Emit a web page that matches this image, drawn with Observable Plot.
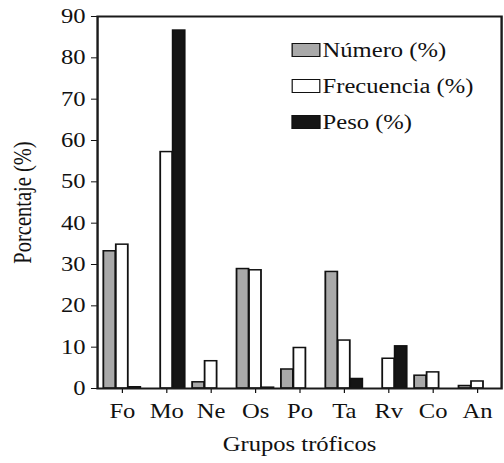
<!DOCTYPE html>
<html>
<head>
<meta charset="utf-8">
<script src="https://cdn.jsdelivr.net/npm/d3@7"></script>
<script src="https://cdn.jsdelivr.net/npm/@observablehq/plot@0.6"></script>
<style>
  html, body { margin: 0; padding: 0; background: #fff; overflow: hidden; }
  #outer { width: 504px; height: 463px; overflow: hidden; }
  #wrap { position: relative; width: 420px; height: 463px; font-family: "Liberation Serif", serif; color: #111;
          transform: scaleX(1.2); transform-origin: 0 0; }
  #wrap svg { display: block; }
  #legend { position: absolute; left: 243.3px; top: 32px; }
  .row { display: flex; align-items: center; height: 36px; font-size: 20.5px; line-height: 1; white-space: nowrap; }
  .sw { width: 22px; height: 12px; border: 1.6px solid #111; margin-right: 1.5px; box-sizing: content-box; }
</style>
</head>
<body>
<div id="outer"><div id="wrap"><div id="legend"></div></div></div>
<script>
const groups = ["Fo", "Mo", "Ne", "Os", "Po", "Ta", "Rv", "Co", "An"];
const numero = [33.2, 0, 1.5, 28.9, 4.6, 28.2, 0, 3.1, 0.6];
const frecuencia = [34.8, 57.2, 6.6, 28.6, 9.8, 11.6, 7.2, 3.9, 1.7];
const peso = [0.3, 86.6, 0, 0.2, 0, 2.3, 10.2, 0, 0];
const seriesNames = ["Número (%)", "Frecuencia (%)", "Peso (%)"];
const seriesColors = ["#a9a9a9", "#ffffff", "#151515"];
const yTicks = [0, 10, 20, 30, 40, 50, 60, 70, 80, 90];

// the reference is drawn horizontally stretched by ~1.2; draw at 420px wide and stretch
const S = 1.2;
const W = 420, H = 463;
const mL = 80.8, mR = 2.5, mT = 16, mB = 75;
const band = (W - mL - mR) / groups.length;
const barW = 10.4;
const inset = (band - barW) / 2;

const seriesValues = [numero, frecuencia, peso];
const barMarks = seriesValues.map((vals, i) =>
  Plot.barY(groups.map((g, j) => ({ grupo: g, valor: vals[j] })), {
    x: "grupo",
    y: "valor",
    fill: seriesColors[i],
    stroke: "#111",
    strokeWidth: 1.5,
    insetLeft: inset,
    insetRight: inset,
    dx: (i - 1) * barW
  })
);

const chart = Plot.plot({
  width: W,
  height: H,
  marginLeft: mL,
  marginRight: mR,
  marginTop: mT,
  marginBottom: mB,
  style: { fontFamily: "Liberation Serif, serif", fontSize: "20.5px", color: "#111", background: "#fff", overflow: "visible" },
  x: {
    domain: groups,
    padding: 0,
    tickSize: 5,
    tickPadding: 10,
    label: "Grupos tróficos",
    labelAnchor: "center",
    labelOffset: 62,
    labelArrow: "none"
  },
  y: {
    domain: [0, 90],
    ticks: yTicks,
    tickSize: 5,
    tickPadding: 5,
    label: "Porcentaje (%)",
    labelAnchor: "center",
    labelOffset: 70,
    labelArrow: "none"
  },
  marks: [
    ...barMarks,
    Plot.frame({ stroke: "#1a1a1a", strokeWidth: 2 })
  ]
});

// strip any axis-label arrows
chart.querySelectorAll("text, tspan").forEach(t => {
  if (t.childNodes.length === 1 && t.firstChild.nodeType === 3) {
    t.firstChild.nodeValue = t.firstChild.nodeValue.replace(/\s*[↑↓→←]\s*/g, "");
  }
});

const wrap = document.getElementById("wrap");
wrap.insertBefore(chart, wrap.firstChild);

const legend = document.getElementById("legend");
seriesNames.forEach((name, i) => {
  const row = document.createElement("div");
  row.className = "row";
  const sw = document.createElement("span");
  sw.className = "sw";
  sw.style.background = seriesColors[i];
  const t = document.createElement("span");
  t.textContent = name;
  row.appendChild(sw);
  row.appendChild(t);
  legend.appendChild(row);
});
</script>
</body>
</html>
